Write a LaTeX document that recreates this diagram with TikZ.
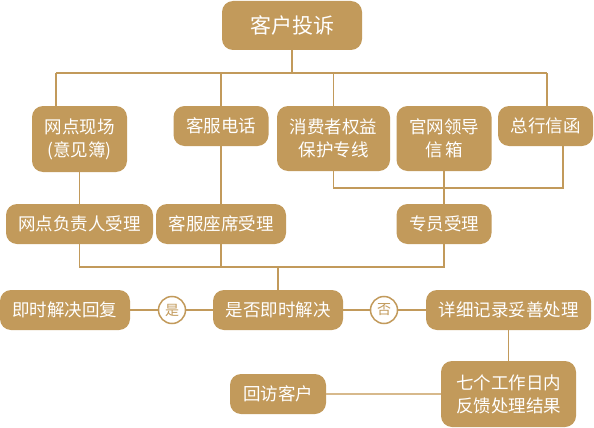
\documentclass[tikz,border=0pt]{standalone}
\usepackage{fontspec}
\setmainfont{Noto Sans CJK SC}
\usetikzlibrary{positioning}

\definecolor{gold}{RGB}{194,154,91}
\definecolor{goldlight}{RGB}{215,185,140}

\begin{document}
\begin{tikzpicture}[
    x=1pt, y=-1pt,
    box/.style={rectangle, fill=gold, text=white, rounded corners=11pt, inner sep=0pt,
                minimum height=40pt, align=center, font=\fontsize{17.5}{23}\selectfont},
    mark circle/.style={circle, draw=gold, line width=1.5pt, fill=white, text=gold,
                minimum size=27pt, inner sep=0pt, font=\fontsize{14}{14}\selectfont},
    link/.style={draw=gold, line width=1.6pt},
    softlink/.style={draw=goldlight, line width=1.6pt},
]
\useasboundingbox (0,0) rectangle (594,428);

% Top
\node[box, minimum width=140pt, minimum height=49pt, font=\fontsize{21}{25}\selectfont] (ts) at (292,25.5) {客户投诉};

% Channels
\node[box, minimum width=95pt, minimum height=66pt] (wx) at (79.5,139) {网点现场\\(意见簿)};
\node[box, minimum width=95pt] (kd) at (221,126) {客服电话};
\node[box, minimum width=113pt, minimum height=65pt] (xf) at (333.5,138.5) {消费者权益\\保护专线};
\node[box, minimum width=95pt, minimum height=65pt] (gw) at (444,138.5) {官网领导\\信\hspace{3pt}箱};
\node[box, minimum width=95pt] (zh) at (545.5,126) {总行信函};

% Handling
\node[box, minimum width=147pt] (wf) at (79.5,224) {网点负责人受理};
\node[box, minimum width=130pt] (kz) at (221,224) {客服座席受理};
\node[box, minimum width=95pt] (zy) at (444,224) {专员受理};

% Decision
\node[box, minimum width=130pt] (jj) at (65,310) {即时解决回复};
\node[mark circle] (yes) at (172,310) {是};
\node[box, minimum width=130pt] (sf) at (278,310) {是否即时解决};
\node[mark circle] (no) at (384,310) {否};
\node[box, minimum width=165pt] (xx) at (508.5,310) {详细记录妥善处理};

% Feedback
\node[box, minimum width=135pt, minimum height=66pt] (qg) at (508.5,394) {七个工作日内\\反馈处理结果};
\node[box, minimum width=96pt] (hf) at (278,394) {回访客户};

% Junctions
\coordinate (t1) at (56,73);
\coordinate (t2) at (547,73);
\coordinate (b1) at (563,188);
\coordinate (m) at (278,267);

% Lines
\draw[link] (ts) -- (ts |- t1);
\draw[link] (t1) -- (t2);
\draw[link] (t1) -- (t1 |- wx.north);
\draw[link] (kd) -- (kd |- t1);
\draw[link] (xf) -- (xf |- t1);
\draw[link] (t2) -- (t2 |- zh.north);
\draw[link] (xf) |- (b1) -- (b1 |- zh.south);
\draw[link] (gw) -- (zy);
\draw[link] (wx) -- (wf);
\draw[link] (kd) -- (kz);
\draw[link] (wf) |- (m) -| (zy);
\draw[link] (kz) -- (kz |- m);
\draw[link] (m) -- (sf);
\draw[link] (jj) -- (yes);
\draw[link] (yes) -- (sf);
\draw[link] (sf) -- (no);
\draw[link] (no) -- (xx);
\draw[link] (xx) -- (qg);
\draw[softlink] (qg) -- (hf);

\end{tikzpicture}
\end{document}
